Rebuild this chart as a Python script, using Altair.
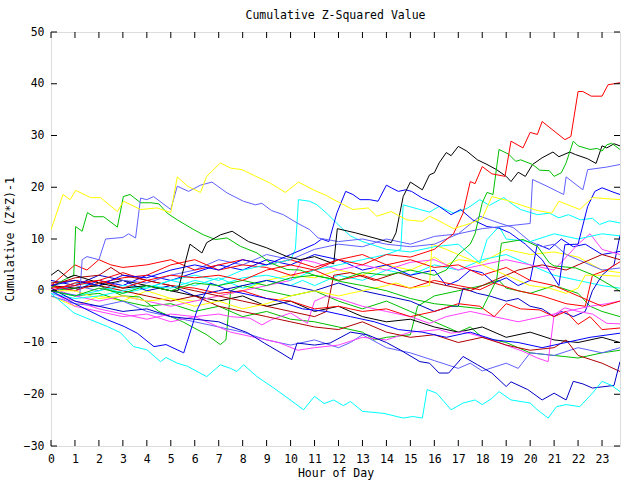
import altair as alt
import pandas as pd

TITLE = "Cumulative Z-Squared Value"
X_TITLE = "Hour of Day"
Y_TITLE = "Cumulative (Z*Z)-1"
X_TICKS = list(range(24))
Y_TICKS = list(range(-30, 51, 10))
X_DOMAIN = [0, 23.75]
Y_DOMAIN = [-30, 50]

# ---- series (hour, value) ----
yellow3 = [(0,-1),(0.5,-2),(1,-3),(2,-1),(3,-2),(4,0),(5,-1.5),(6,-2),(7,-1),(8,0),(9,2),(10,3),(11,2.5),(12,4),(13,3),(14,5),(15,4),(15.5,5),(16,6.5),(16.5,5),(17,6),(18,5.5),(19,8),(20,7),(21,7.5),(22,6.5),(23,4),(23.75,3.5)]
cyan3 = [(0,0),(1,1.5),(2,1),(3,-0.5),(4,0.5),(5,2),(6,1),(7,2.5),(8,0.5),(9,2),(10,1),(10.5,2),(11,1),(12,3),(13,2),(14,4),(15,3),(16,5),(17,4),(18,6),(19,7),(20,5),(21,3),(22,2),(23,1),(23.75,0.5)]
green3 = [(0,0),(1,-1),(2,-0.5),(3,-2),(4,-3),(5,-2.5),(6,-4),(7,-3),(8,-5),(9,-4),(10,-5.5),(11,-6),(12,-7),(13,-8),(13.5,-9.5),(14,-9),(15,-8.5),(15.3,-3),(16,-1),(17,0),(18,1),(18.7,2),(19,0.5),(20,-0.5),(21,1),(22,-0.5),(22.5,-3),(23,-4),(23.75,-5)]
green4 = [(0,0),(1,0.5),(2,1),(3,-1),(3.7,-1.2),(4.5,-4),(5.5,-6),(6.5,-8.5),(7.07,-10.4),(7.3,-9.5),(7.5,0),(8,1),(9,0),(10,-1),(11,0),(12,-2),(13,-3.5),(14,-2),(15,-4),(16,-6),(17,-8),(17.5,-7),(18,-9),(19,-10),(19.5,-11),(20,-12),(21,-12.5),(22,-13),(23,-12),(23.75,-11.5)]
blue3 = [(0,1),(1,0),(2,2),(3,1),(4,3),(5,2),(6,3.5),(7,5),(8,4),(9,6),(10,5),(11,7),(12,6),(13,4),(14,5),(15,3),(16,4),(16.5,1),(17,2),(17.5,4),(18,3.5),(18.5,1.5),(19,2.5),(19.5,1),(20,2),(20.3,9),(20.8,8),(21.3,10),(21.8,8.5),(22.3,9),(23,7),(23.75,7.6)]
blue4 = [(0,2),(1,1),(2,3),(3,2),(4,0),(5,1),(6,-1),(7,0),(8,1),(9,2),(10,1),(11,0),(12,1.5),(13,0),(14,-1),(15,-2),(16,-4),(16.7,-3),(17,-3),(17.2,0.5),(17.8,-0.5),(18.3,-1),(19,-2),(19.5,-1.5),(20,-3),(20.5,-3.5),(21,-5),(21.3,-4),(21.8,-5),(22.3,-4),(22.6,0),(23,3),(23.5,5),(23.75,10.8)]
black2 = [(0,1),(1,0.5),(2,1),(3,2),(4,1),(5,0),(6,-1),(7,-2),(8,-1),(9,-3),(10,-2),(11,-4),(12,-3),(13,-5),(14,-6),(15,-5.5),(16,-7),(17,-8),(18,-7),(19,-9),(20,-8),(21,-9.5),(22,-10),(23,-9),(23.75,-10)]
lblue2 = [(0,0),(1,1),(2,0),(3,2),(4,1.5),(5,3),(6,4),(7,6),(8,5),(9,7),(10,6),(11,8),(12,9),(13,8.5),(14,10),(15,9),(16,10.5),(17,11),(17.9,14.4),(18.7,13.1),(19.3,12.2),(20,9.5),(20.5,8.5),(21,9),(21.5,7),(22,6),(22.5,5),(23,4),(23.75,4.4)]
lblue3 = [(0,-1),(1,-2.5),(2,-3),(3,-2),(4,-4),(5,-5),(6,-6),(7,-7),(8,-8),(9,-9.5),(10,-10.5),(11,-9.5),(12,-11),(12.5,-10),(13,-8.5),(14,-11),(15,-12),(16,-13.5),(17,-15),(17.5,-14),(18,-15.5),(19,-14),(19.5,-15),(20,-12),(21,-12.5),(22,-11),(23,-12),(23.75,-11)]
magenta1 = [(0,0),(0.5,-1.5),(1,-3),(2,-4),(3,-5),(4,-4.5),(5,-6),(6,-5),(7,-7),(7.5,-8),(8.5,-9),(9.5,-10),(10.3,-11.5),(11,-11),(12,-10.5),(13,-9),(14,-9.5),(15,-8),(16.2,-7.5),(16.7,-8.2),(17.2,-7.9),(17.9,-8.8),(18.6,-9.8),(19.15,-10.8),(19.7,-11.7),(20.3,-13),(20.75,-13.7),(21,-4.6),(21.45,-3.3),(22,-4),(22.6,-4.5),(23.2,-6.3),(23.75,-6.4)]
magenta2 = [(0,-0.5),(1,-2),(2,-3.5),(3,-4.5),(4,-5.5),(5,-4.5),(6,-5),(7,-4.5),(7.5,-5),(8.3,-5.3),(8.8,-6.6),(9.2,-5.6),(9.57,-5),(10,-4.3),(10.7,-6.3),(11,-2),(11.5,-1),(12,-1.5),(13,-3),(14,-4),(15,-5),(15.8,-6.3),(16.5,-5),(17.5,-4),(18.5,-5),(19.5,-6),(20.5,-5),(21.5,-4),(22.5,-3),(23.2,-2.5),(23.75,-2)]
magenta3 = [(0,0.5),(1,-1),(2,-2),(3,-1),(4,-2),(5,-3),(6,-2),(7,-1),(8,0),(9,1),(10,2),(10.5,6),(11,5.5),(12,4),(13,5),(14,4),(15,5.5),(16,6),(17,4),(18,5),(19,6),(20,5),(21,4),(22,9),(22.5,11),(23,8),(23.75,7)]
red2 = [(0,0),(1,1.5),(2,2),(3,3.5),(4,2),(5,1),(6,0.5),(7,-0.5),(8,0),(9,-1.5),(10,-2),(11,-3.5),(12,-3),(13,-4),(14,-3.5),(15,-5),(16,-4),(17,-2.5),(17.9,-3),(18.5,-5),(19,-2.5),(19.6,-3.5),(20.4,-3.7),(21,-5),(21.5,-4),(22,-6.5),(22.5,-5),(23,-7.5),(23.75,-7.2)]
red3 = [(0,1),(1,0),(2,1.5),(3,2.5),(4,3),(5,5),(6,6),(7,4),(8,5),(9,4.5),(10,3),(11,4),(12,2),(13,3),(14,1.5),(15,0.5),(16,2),(17,1),(17.9,0.2),(18.5,1.5),(19.5,0),(20.5,-1),(21.5,-2.5),(22.3,-3),(22.6,3),(23.2,4),(23.75,5.6)]
red4 = [(0,1),(0.5,3),(1,5),(1.5,4),(2,6),(2.5,5),(3,4.5),(4,5),(5,6),(6,4),(7,5),(8,6),(9,5),(10,6),(11,4.5),(12,6),(13,7),(14,5),(15,6),(16,4.5),(17,5),(18,3),(19,4.5),(20,2),(21,1),(22,-1),(23,-3),(23.75,-2)]
darkred1 = [(0,1),(1,2.5),(2,3),(2.5,4.5),(3,3),(4,2),(5,1),(6,0),(7,-1),(8,-2),(9,-3),(10,-4),(11,-5),(11.5,-4),(11.8,3),(12.5,3.5),(13.5,2),(14.5,3.5),(15.5,2),(16.5,1),(17.5,0),(18.5,2),(19.5,4),(20.5,5),(21.5,4),(22.5,6),(23,7),(23.75,6)]
darkred2 = [(0,1.5),(1,2),(2,1),(3,0),(4,-1),(5,-2),(6,-1),(7,-3),(8,-4),(9,-5),(10,-6),(11,-7),(12,-7.5),(13,-6),(14,-8),(15,-9),(16,-8.5),(17,-10),(18,-9),(19,-10.5),(20,-11.5),(21,-11),(21.5,-9.5),(22,-12.5),(23,-14),(23.75,-15.6)]
yellow2 = [(0,0),(1,0),(2,-1.5),(3,-1),(4,-2),(5,-1.5),(6,-3),(7,-2),(8,-3.5),(9,-2.5),(10,-1),(11,0),(12,-1),(13,0),(14,1),(14.4,1.5),(15,0.5),(15.8,1),(15.9,9),(16.5,8),(17.5,6),(18.5,4),(19.5,2),(20,1),(20.8,0.5),(21.5,-0.5),(22,0.5),(22.3,3),(23,3),(23.75,2.8)]
cyan_up = [(0,0),(1,-1),(2,0),(3,1),(4,0.5),(5,2),(6,3),(7,2),(8,4),(9,5),(10,6),(10.2,8),(10.33,17.6),(10.8,17.3),(11.1,16.6),(11.5,15),(12.07,12.4),(12.5,10.6),(13,9.5),(14,8),(15,7.5),(16,8.5),(17,9),(17.9,5.4),(18.2,9.9),(18.7,12.4),(19,10),(20,9.5),(21,11),(22,10),(23,11),(23.75,10.6)]
cyan_mid = [(0,-0.5),(1,-1.5),(2,-1),(3,0),(4,1),(5,0.5),(6,2),(7,1),(8,2.5),(9,3),(10,2),(11,4),(12,5),(13,6),(14,7),(14.6,8),(14.7,16.6),(15.4,15.7),(15.8,15.2),(16.2,16.3),(16.8,15),(17.4,16),(17.9,17.6),(18.3,16.5),(18.9,18),(19.3,16.6),(19.6,15.7),(20.3,14.7),(20.8,15),(21.2,14.1),(21.6,14.7),(22.1,13.7),(22.6,14),(22.9,12.8),(23.3,13.5),(23.75,13.1)]
blue_low1 = [(0,0),(1,-2.5),(2.35,-5.6),(3.05,-6.9),(3.6,-8.2),(4.3,-10.8),(4.8,-10.4),(5.54,-12),(6.1,-3.7),(6.65,1.5),(7.5,0),(8.5,-1),(9.5,-2),(10.5,-3.5),(11.5,-4),(12.5,-5),(13.5,-6),(14.5,-7.5),(15.5,-8),(16.5,-9),(17.5,-8),(18.5,-9.5),(19.5,-10),(20.5,-11),(21.5,-10),(22.5,-9),(23.75,-8.2)]
blue_low2 = [(0,0.5),(1,-2),(2,-3),(3,-4),(4,-3.5),(5,-5),(6,-5.5),(7,-6),(7.49,-6.9),(8.2,-8.1),(8.9,-10.1),(9.6,-12),(10.05,-13.3),(10.27,-10.1),(11,-10.5),(11.65,-10.1),(12.5,-8),(13.2,-8.5),(14,-10),(14.6,-11.5),(15.4,-13.7),(15.8,-14),(16.2,-15.9),(16.6,-15.9),(17.2,-12.7),(17.8,-14.3),(18.4,-15.9),(19,-18.5),(19.2,-17.6),(19.9,-19.1),(20.5,-21.1),(21,-19.8),(21.5,-21.1),(21.8,-17.5),(22.2,-18),(22.6,-18.8),(23.5,-18.3),(23.75,-13.7)]
cyan_bottom = [(0,-0.5),(0.96,-4.3),(1.65,-5.6),(2.35,-6.9),(2.9,-8.1),(3.45,-10.8),(4,-11.4),(4.57,-13.7),(4.8,-12.9),(5.27,-14),(5.7,-14.6),(6.5,-16.6),(7.07,-14.3),(7.49,-15),(7.76,-15.6),(8.04,-14.3),(8.6,-16.6),(9.3,-18.8),(9.9,-20.8),(10.54,-23),(11,-20.4),(11.4,-21.8),(11.8,-21.1),(12.2,-22.2),(12.5,-21.4),(13,-23.3),(13.9,-23.7),(14.7,-24.6),(15.1,-24.3),(15.5,-24.6),(15.7,-19.1),(16.1,-19.8),(16.7,-23),(17.2,-21.7),(17.7,-21.1),(18,-22),(18.4,-20.8),(18.7,-19.5),(19.2,-21.1),(20,-21.7),(20.3,-23),(20.75,-24.6),(21.1,-22.4),(21.5,-22),(22.07,-22.4),(22.6,-19.8),(23,-17.5),(23.4,-18.3),(23.75,-19.5)]
green_early = [(0,0.5),(0.5,2),(0.95,3),(1.03,12.4),(1.3,11.5),(1.52,15.1),(1.8,14.3),(2.2,14.3),(2.77,12.3),(3.02,18.2),(3.3,18.6),(3.74,17),(4.17,17),(4.5,16.8),(4.85,15),(5.27,13.7),(5.96,11.8),(6.37,10.8),(6.86,9.9),(7.35,10.2),(7.9,8.6),(8.6,7.3),(9.15,5.4),(9.85,4.1),(10.4,4),(11.1,2.8),(11.6,2.4),(12.07,1.8),(13,1),(14,0),(15,-1.5),(16,-2.5),(17,-3),(18,-3.5),(18.6,2.1),(18.8,9.2),(19.7,9.9),(20.3,8.6),(20.8,5.4),(21,4.8),(21.9,4.4),(22.6,3.1),(23.45,0.8),(23.75,-0.1)]
blue_jump = [(0,1),(1,2),(2,1),(3,3),(4,2.5),(5,4),(6,5),(7,4),(8,6),(9,5),(10,7),(11,9),(11.3,10),(11.6,9.5),(11.93,15),(12.3,19.2),(12.6,18.6),(12.9,17.6),(13.3,17.6),(13.65,17.3),(14,20.4),(14.2,19.9),(14.5,19.2),(14.8,19.5),(15.05,19.2),(15.5,17.9),(15.8,17.3),(16.2,16.3),(16.7,14.7),(17.1,15.7),(17.6,13.7),(18.2,12.4),(18.7,12.1),(19.15,11.2),(19.8,9),(20.5,6),(21.2,1),(21.45,8.9),(22,9),(22.4,16.3),(22.7,19.2),(23,19.9),(23.5,19),(23.75,18.6)]
lblue_top = [(0,0),(0.6,-0.5),(1.2,-1),(1.3,6),(1.5,6.6),(2,6),(2.28,10),(3,10.3),(3.24,11),(3.53,10.2),(3.74,17.9),(4,17.6),(4.28,18.2),(5,15.7),(5.27,20.2),(5.74,19.2),(6.24,20.4),(6.72,21),(7.35,18.9),(8.03,17.3),(8.53,16.6),(8.8,16.9),(9.2,15.5),(9.7,14.7),(10.27,13.1),(10.8,11.8),(11.15,10.2),(12,9.5),(13,10),(14,9),(15,8.5),(16,9),(17,11),(18,12),(19,12.5),(20,13),(20.1,21.5),(20.7,20.2),(21.4,18.6),(21.5,22),(22.2,19.5),(22.4,23.4),(23.2,23.9),(23.75,24.4)]
black_top = [(0,3),(0.3,4),(0.7,2.5),(1,3),(2,1.5),(3,0.5),(4,1),(5,0),(5.3,0),(5.8,9),(6.3,7.3),(6.5,9.3),(7.07,10.8),(7.56,11.5),(8.24,9.5),(9,8.3),(9.85,6.6),(10.4,6),(11,6.6),(11.8,5.2),(11.95,12),(12.7,11.2),(14.2,9.3),(14.4,11.2),(14.7,18.2),(15,21),(15.5,19.5),(15.8,22.4),(16,22.8),(16.2,24.7),(16.5,26.7),(16.7,26.1),(17,27.9),(17.35,27),(17.8,25.3),(18.2,24.4),(18.6,23.4),(19,22.1),(19.2,21.1),(19.5,22.9),(19.8,22.1),(20.1,24.4),(20.5,25.7),(20.95,26.8),(21.2,25.9),(21.65,26.8),(21.9,26.3),(22.4,25.5),(22.75,24.6),(23,28),(23.2,27.6),(23.5,28.4),(23.75,28)]
green_top = [(0,0),(1,-1),(2,0.5),(3,-0.5),(4,1),(5,0),(6,1.5),(7,1),(8,2),(9,1),(10,2.5),(11,3),(12,2),(13,3.5),(14,3),(15,4),(16,3),(16.5,4),(17,7),(17.5,9),(17.7,11),(18,17),(18.2,19),(18.45,18.6),(18.7,27.3),(19.1,26.4),(19.4,25),(19.6,25.3),(20.1,24.4),(20.4,23.3),(20.8,23.2),(21,22.1),(21.3,22.8),(21.5,24.7),(21.8,28.9),(22,28),(22.5,27.3),(22.8,27.5),(23,27),(23.2,28.2),(23.4,28.5),(23.75,27.3)]
red_top = [(0,0.5),(1,1),(2,2),(3,0.5),(4,2),(5,3),(6,2.5),(7,3),(8,2),(9,4),(10,5),(11,4),(12,6),(13,5),(14,7),(15,6.5),(16,8),(16.8,11),(17.2,15),(17.5,21.1),(17.7,20.7),(18,24),(18.4,22.6),(18.95,22.1),(19.2,28.9),(19.7,27.6),(20,30.6),(20.3,30.2),(20.5,32.7),(21.45,29.2),(21.7,29.8),(22,38.5),(22.2,38.5),(22.55,37.6),(23,37.6),(23.25,39.8),(23.75,40.2)]
yellow_top = [(0,11.8),(0.5,18.6),(0.8,17.6),(1.03,19.4),(1.65,18),(2.07,18),(2.77,15.3),(3.03,17.3),(3.74,15.7),(4.43,16),(5,15.1),(5.27,22),(5.7,20.2),(6.24,19),(6.5,22.1),(7.07,24.7),(7.5,23.7),(7.97,23.4),(8.6,22),(9.15,20.8),(9.78,19),(10.33,21),(10.95,19.5),(11.45,18.5),(11.93,17.3),(12.6,15.7),(13.24,16),(13.6,14.4),(14.2,15.3),(14.85,13.7),(15.5,13.4),(15.8,14.4),(16.2,13.5),(16.8,12),(17.5,13),(18,14),(18.4,18.2),(19,17.5),(19.6,16.6),(20.3,15.5),(20.9,15),(21.2,17.3),(22.07,15.7),(22.6,18),(23.75,17.6)]

SERIES = [
    ("yellow3", "#ffff00", yellow3), ("cyan3", "#00ffff", cyan3),
    ("green3", "#00c000", green3), ("green4", "#00c000", green4),
    ("blue3", "#0000ff", blue3), ("blue4", "#0000c8", blue4),
    ("black2", "#000000", black2), ("lblue2", "#6060ff", lblue2),
    ("lblue3", "#6060ff", lblue3), ("magenta1", "#ff40ff", magenta1),
    ("magenta2", "#ff40ff", magenta2), ("magenta3", "#ff40ff", magenta3),
    ("red2", "#ff0000", red2), ("red3", "#ff0000", red3), ("red4", "#ff0000", red4),
    ("darkred1", "#b00000", darkred1), ("darkred2", "#b00000", darkred2),
    ("yellow2", "#ffff00", yellow2), ("cyan_up", "#00ffff", cyan_up),
    ("cyan_mid", "#00ffff", cyan_mid), ("blue_low1", "#0000ff", blue_low1),
    ("blue_low2", "#0000c8", blue_low2), ("cyan_bottom", "#00ffff", cyan_bottom),
    ("green_early", "#00c000", green_early), ("blue_jump", "#0000ff", blue_jump),
    ("lblue_top", "#6060ff", lblue_top), ("black_top", "#000000", black_top),
    ("green_top", "#00c000", green_top), ("red_top", "#ff0000", red_top),
    ("yellow_top", "#ffff00", yellow_top),
]

rows = []
for i, (name, col, pts) in enumerate(SERIES):
    for h, v in pts:
        rows.append({"series": name, "order": i, "hour": h, "value": v})
df = pd.DataFrame(rows)

names = [s[0] for s in SERIES]
colors = [s[1] for s in SERIES]

FONT = "DejaVu Sans Mono"
FS = 11.5
W, H = 569, 414

xscale = alt.Scale(domain=X_DOMAIN, nice=False, zero=False)
yscale = alt.Scale(domain=Y_DOMAIN, nice=False, zero=False)

X_AXIS = alt.Axis(values=X_TICKS, tickSize=0, domain=False, grid=False,
                  labelPadding=7, labelFont=FONT, labelFontSize=FS,
                  labelColor="black", title=X_TITLE, titleFont=FONT,
                  titleFontSize=FS, titleFontWeight="normal",
                  titleColor="black", titleY=21, titleBaseline="top",
                  labelFlush=False)
Y_AXIS = alt.Axis(values=Y_TICKS, tickSize=0, domain=False, grid=False,
                  labelPadding=7, labelFont=FONT, labelFontSize=FS,
                  labelColor="black", title=Y_TITLE, titleFont=FONT,
                  titleFontSize=FS, titleFontWeight="normal",
                  titleColor="black", titleX=-36, titleY=207,
                  labelFlush=False)

lines = alt.Chart(df).mark_line(strokeWidth=1, clip=True).encode(
    x=alt.X("hour:Q", scale=xscale, axis=X_AXIS),
    y=alt.Y("value:Q", scale=yscale, axis=Y_AXIS),
    color=alt.Color("series:N", scale=alt.Scale(domain=names, range=colors), legend=None),
    detail="series:N",
    order=alt.Order("hour:Q"),
)

xt = pd.DataFrame({"hour": X_TICKS})
yt = pd.DataFrame({"value": Y_TICKS})
TL = 6
tick_b = alt.Chart(xt).mark_rule(color="black", strokeWidth=1).encode(
    x=alt.X("hour:Q", scale=xscale, axis=X_AXIS), y=alt.value(H), y2=alt.value(H - TL))
tick_t = alt.Chart(xt).mark_rule(color="black", strokeWidth=1).encode(
    x=alt.X("hour:Q", scale=xscale, axis=X_AXIS), y=alt.value(0), y2=alt.value(TL))
tick_l = alt.Chart(yt).mark_rule(color="black", strokeWidth=1).encode(
    y=alt.Y("value:Q", scale=yscale, axis=Y_AXIS), x=alt.value(0), x2=alt.value(TL))
tick_r = alt.Chart(yt).mark_rule(color="black", strokeWidth=1).encode(
    y=alt.Y("value:Q", scale=yscale, axis=Y_AXIS), x=alt.value(W), x2=alt.value(W - TL))

chart = alt.layer(lines, tick_b, tick_t, tick_l, tick_r).properties(
    width=W, height=H,
    title=alt.TitleParams(TITLE, font=FONT, fontSize=FS, fontWeight="normal",
                          color="black", offset=5, anchor="middle"),
    padding={"left": 51, "top": 32, "right": 20, "bottom": 34},
    autosize="none",
).configure_view(stroke="black", strokeWidth=1).configure(background="white")

chart.save("out.html", embed_options={"renderer": "svg", "actions": False})
